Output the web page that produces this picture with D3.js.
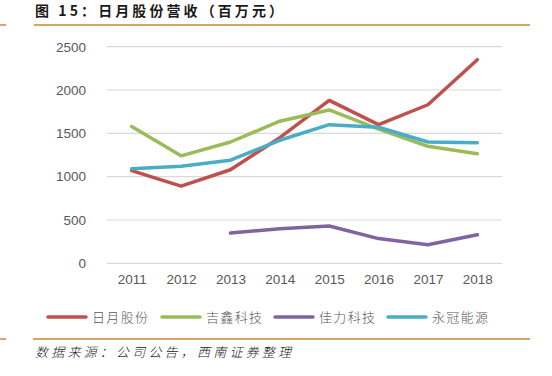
<!DOCTYPE html>
<html>
<head>
<meta charset="utf-8">
<script src="https://cdn.jsdelivr.net/npm/d3@7"></script>
<style>
  html, body { margin: 0; padding: 0; background: #fff; }
  svg { display: block; }
</style>
</head>
<body>
<div id="container"></div>
<script>
const years = ["2011", "2012", "2013", "2014", "2015", "2016", "2017", "2018"];
const riyue = [1070, 890, 1080, 1450, 1880, 1600, 1830, 2350];
const jixin = [1580, 1240, 1400, 1640, 1770, 1550, 1350, 1265];
const jiali = [null, null, 350, 400, 430, 285, 215, 330];
const yongguan = [1090, 1120, 1190, 1420, 1600, 1570, 1400, 1390];
const seriesNames = ["日月股份", "吉鑫科技", "佳力科技", "永冠能源"];
const seriesColors = ["#C0504D", "#9BBB59", "#8064A2", "#4BACC6"];
const yTicks = [0, 500, 1000, 1500, 2000, 2500];

const w = 552;
const h = 376;
const cjk = "'Noto Sans CJK SC', sans-serif";
const latin = "'Liberation Sans', Arial, sans-serif";

const svg = d3
  .select("#container")
  .append("svg")
  .attr("width", w)
  .attr("height", h)
  .attr("viewBox", `0 0 ${w} ${h}`);

// title and rules
svg.append("line").attr("x1", 0).attr("x2", 6).attr("y1", 25).attr("y2", 25)
  .attr("stroke", "#D6A868").attr("stroke-width", 2);
svg.append("line").attr("x1", 34).attr("x2", 530).attr("y1", 25).attr("y2", 25)
  .attr("stroke", "#D6A868").attr("stroke-width", 2);
svg.append("text")
  .attr("x", 35)
  .attr("y", 16)
  .attr("font-family", cjk)
  .attr("font-weight", "bold")
  .attr("font-size", 14)
  .attr("fill", "#1a1a1a")
  .attr("textLength", 248)
  .attr("lengthAdjust", "spacing")
  .text("图 15：日月股份营收（百万元）");

const xScale = d3.scalePoint().domain(years).range([107, 502]).padding(0.5);
const yScale = d3.scaleLinear().domain([0, 2500]).range([263.3, 46.7]);

// grid
svg.append("g")
  .selectAll("line")
  .data(yTicks)
  .enter()
  .append("line")
  .attr("x1", 107)
  .attr("x2", 502)
  .attr("y1", (d) => yScale(d))
  .attr("y2", (d) => yScale(d))
  .attr("stroke", "#D9D9D9")
  .attr("stroke-width", 1.2);

const yAxis = d3.axisLeft(yScale).tickValues(yTicks).tickFormat(d3.format("d")).tickSize(0).tickPadding(0);
const gy = svg.append("g").attr("transform", "translate(86,0)").call(yAxis);
gy.select(".domain").remove();
gy.selectAll("text")
  .attr("font-family", latin)
  .attr("font-size", 13.5)
  .attr("fill", "#595959");

const xAxis = d3.axisBottom(xScale).tickSize(0).tickPadding(0);
const gx = svg.append("g").attr("transform", "translate(0,274)").call(xAxis);
gx.select(".domain").remove();
gx.selectAll("text")
  .attr("font-family", latin)
  .attr("font-size", 13.5)
  .attr("fill", "#595959");

// lines
const allSeries = [riyue, jixin, jiali, yongguan];
const line = d3
  .line()
  .defined((d) => d != null)
  .x((d, i) => xScale(years[i]))
  .y((d) => yScale(d));

allSeries.forEach((s, k) => {
  svg.append("path")
    .datum(s)
    .attr("d", line)
    .attr("fill", "none")
    .attr("stroke", seriesColors[k])
    .attr("stroke-width", 3.5)
    .attr("stroke-linejoin", "round")
    .attr("stroke-linecap", "round");
});

// legend
const legendX = [48, 162, 275, 388];
const legend = svg.append("g");
seriesNames.forEach((name, k) => {
  legend.append("line")
    .attr("x1", legendX[k])
    .attr("x2", legendX[k] + 38)
    .attr("y1", 317)
    .attr("y2", 317)
    .attr("stroke", seriesColors[k])
    .attr("stroke-width", 3.5)
    .attr("stroke-linecap", "round");
  legend.append("text")
    .attr("x", legendX[k] + 44)
    .attr("y", 322)
    .attr("font-family", cjk)
    .attr("font-weight", 300)
    .attr("font-size", 13)
    .attr("fill", "#595959")
    .attr("textLength", 56)
    .attr("lengthAdjust", "spacing")
    .text(name);
});

// footer
svg.append("line").attr("x1", 0).attr("x2", 6).attr("y1", 339).attr("y2", 339)
  .attr("stroke", "#D6A868").attr("stroke-width", 2);
svg.append("line").attr("x1", 33).attr("x2", 530).attr("y1", 339).attr("y2", 339)
  .attr("stroke", "#D6A868").attr("stroke-width", 2);
svg.append("text")
  .attr("x", 35)
  .attr("y", 357)
  .attr("font-family", cjk)
  .attr("font-style", "italic")
  .attr("font-weight", 300)
  .attr("font-size", 13)
  .attr("fill", "#1a1a1a")
  .attr("textLength", 256)
  .attr("lengthAdjust", "spacing")
  .text("数据来源：公司公告，西南证券整理");
</script>
</body>
</html>
